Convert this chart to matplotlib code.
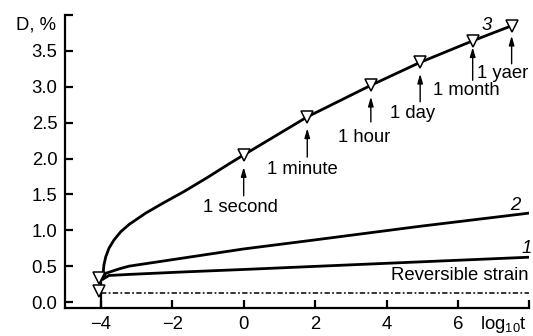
import matplotlib
matplotlib.use("Agg")
import matplotlib.pyplot as plt

plt.rcParams["font.family"] = ["Liberation Sans", "DejaVu Sans"]
plt.rcParams["mathtext.fontset"] = "custom"
plt.rcParams["mathtext.rm"] = "Liberation Sans"
plt.rcParams["mathtext.it"] = "Liberation Sans:italic"

# Creep curves D(%) versus log10 of time
curve1_x = [-3.97, -3.77, -3.21, -1.67, 0.0, 1.9, 4.94, 8.0]
curve1_y = [0.31, 0.37, 0.385, 0.42, 0.454, 0.495, 0.56, 0.625]

curve2_x = [-3.97, -3.86, -3.5, -3.21, -1.67, 0.0, 1.9, 4.94, 8.0]
curve2_y = [0.31, 0.40, 0.46, 0.50, 0.615, 0.74, 0.86, 1.056, 1.24]

curve3_x = [-3.97, -3.94, -3.91, -3.86, -3.77, -3.63, -3.44, -3.21, -2.74,
            -2.27, -1.67, -1.0, -0.46, 0.0, 1.78, 3.56, 4.94, 6.41, 7.5]
curve3_y = [0.31, 0.38, 0.52, 0.63, 0.75, 0.865, 0.98, 1.08, 1.24,
            1.375, 1.54, 1.74, 1.91, 2.05, 2.58, 3.02, 3.34, 3.64, 3.85]

# Marked moments on curve 3
moment_labels = ["1 second", "1 minute", "1 hour", "1 day", "1 month", "1 yaer"]
moment_x = [0.0, 1.78, 3.56, 4.94, 6.41, 7.5]
moment_y = [2.05, 2.58, 3.02, 3.34, 3.64, 3.85]
arrow_tail = [1.48, 2.02, 2.51, 2.79, 3.09, 3.32]
arrow_tip = [1.88, 2.42, 2.86, 3.18, 3.55, 3.71]
label_x = [-0.1, 1.64, 3.36, 4.74, 6.23, 7.26]
label_y = [1.26, 1.79, 2.23, 2.57, 2.88, 3.125]

# Initial (instantaneous) strain points and reversible strain level
start_x = [-4.05, -4.05]
start_y = [0.34, 0.15]
reversible = 0.13

x_ticks = [-4, -2, 0, 2, 4, 6, 8]
x_ticklabels = ["\u22124", "\u22122", "0", "2", "4", "6", ""]
y_ticks = [0.0, 0.5, 1.0, 1.5, 2.0, 2.5, 3.0, 3.5, 4.0]
y_ticklabels = ["0.0", "0.5", "1.0", "1.5", "2.0", "2.5", "3.0", "3.5", ""]

fs = 13.3

fig = plt.figure(figsize=(5.33, 3.36), dpi=100)
ax = fig.add_axes([0.122, 0.0833, 0.8714, 0.8721])

lw = 2.0
for xs, ys in ((curve1_x, curve1_y), (curve2_x, curve2_y), (curve3_x, curve3_y)):
    ax.plot(xs, ys, color="black", lw=lw, solid_capstyle="butt",
            solid_joinstyle="round")
ax.plot([-4.0, -4.0], [0.31, -0.09], color="black", lw=1.6)

ax.plot([-4.0, 8.0], [reversible, reversible], color="black", lw=1.1,
        dashes=[3.5, 1.5, 1.2, 1.5])

ax.plot(start_x, start_y, linestyle="none", marker="v", ms=8,
        mfc="white", mec="black", mew=1.1, zorder=5)
ax.plot(moment_x, moment_y, linestyle="none", marker="v", ms=8,
        mfc="white", mec="black", mew=1.1, zorder=5)

for lab, mx, t0, t1, lx, ly in zip(moment_labels, moment_x, arrow_tail,
                                   arrow_tip, label_x, label_y):
    ax.annotate("", xy=(mx, t1), xytext=(mx, t0),
                arrowprops=dict(arrowstyle="-|>,head_length=0.55,head_width=0.16",
                                color="black", lw=1.0, shrinkA=0, shrinkB=0))
    ax.text(lx, ly, lab, fontsize=fs, ha="center", va="baseline")

ax.text(6.81, 3.85, "3", fontsize=fs, style="italic", ha="center", va="center")
ax.text(7.6, 1.35, "2", fontsize=fs, style="italic", ha="center", va="center")
ax.text(7.93, 0.75, "1", fontsize=fs, style="italic", ha="center", va="center")
ax.text(7.97, 0.31, "Reversible strain", fontsize=fs, ha="right", va="baseline")

ax.set_xlim(-5, 8)
ax.set_ylim(-0.083, 4.0)
ax.set_xticks(x_ticks)
ax.set_xticklabels(x_ticklabels)
ax.set_yticks(y_ticks)
ax.set_yticklabels(y_ticklabels)

for side in ("top", "right"):
    ax.spines[side].set_visible(False)
for side in ("left", "bottom"):
    ax.spines[side].set_linewidth(1.6)
    ax.spines[side].set_capstyle("projecting")

ax.tick_params(axis="both", direction="in", length=5.5, width=1.6,
               labelsize=fs)
ax.tick_params(axis="x", pad=6)
ax.tick_params(axis="y", pad=5.5)

fig.text(56 / 533, 1 - 29.5 / 336, "D, %", fontsize=fs, ha="right", va="baseline")
fig.text(527 / 533, 1 - 329 / 336, "log$_{10}$t", fontsize=fs,
         ha="right", va="baseline")

fig.savefig("out.png", dpi=100)
